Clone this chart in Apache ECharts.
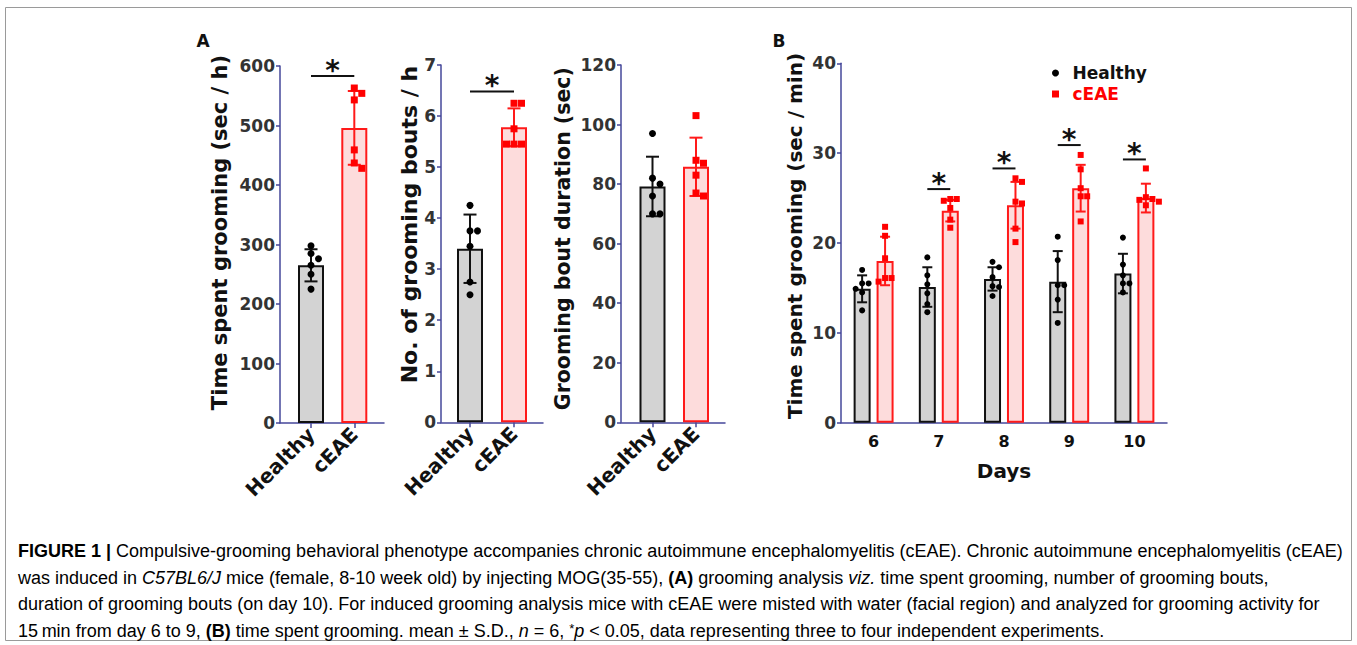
<!DOCTYPE html>
<html><head><meta charset="utf-8">
<script src="https://cdn.jsdelivr.net/npm/echarts@6/dist/echarts.min.js"></script>
<style>html,body{margin:0;padding:0;background:#fff}#c{width:1357px;height:645px}</style>
</head><body><div id="c"></div>
<script>
// ---------------- DATA ----------------
const aCategories = ['Healthy', 'cEAE'];
// A1: time spent grooming (sec / h)
const a1Mean = [265, 496];
const a1SD = [27, 62];
const a1Healthy = [298, 285, 276, 265, 250, 225];
const a1CEAE = [563, 554, 543, 459, 437, 428];
const a1Sig = 583;
// A2: number of grooming bouts / h
const a2Mean = [3.40, 5.78];
const a2SD = [0.67, 0.37];
const a2Healthy = [4.25, 3.75, 3.75, 3.45, 2.75, 2.5];
const a2CEAE = [6.25, 6.25, 5.75, 5.45, 5.45, 5.45];
const a2Sig = 6.48;
// A3: grooming bout duration (sec)
const a3Mean = [79.2, 85.8];
const a3SD = [10.0, 9.8];
const a3Healthy = [97, 82, 80, 76, 70, 70];
const a3CEAE = [103, 88, 87, 83, 76, 77];
// B: time spent grooming (sec / min) per day
const days = ['6', '7', '8', '9', '10'];
const bHealthyMean = [14.9, 15.1, 16.0, 15.7, 16.6];
const bHealthySD = [1.5, 2.2, 1.3, 3.4, 2.2];
const bCEAEMean = [18.0, 23.6, 24.2, 26.1, 25.0];
const bCEAESD = [2.7, 1.2, 2.6, 2.6, 1.6];
const bHealthyPts = [
  [17.0, 15.5, 15.5, 14.9, 14.5, 12.5],
  [18.4, 16.4, 15.4, 14.4, 13.2, 12.3],
  [17.9, 17.3, 16.2, 15.2, 15.1, 14.1],
  [20.7, 18.1, 15.3, 15.3, 13.7, 11.1],
  [20.6, 17.6, 16.4, 15.5, 15.5, 14.5]
];
const bCEAEPts = [
  [21.8, 20.8, 18.3, 16.1, 16.1, 15.7],
  [24.9, 24.9, 24.7, 23.9, 22.6, 21.7],
  [27.2, 26.8, 24.6, 24.4, 21.6, 20.1],
  [29.8, 28.2, 26.1, 25.2, 25.2, 22.4],
  [28.3, 25.1, 24.9, 24.8, 24.6, 24.2]
];
const bSig = [null, 26.0, 28.3, 30.9, 29.3];

// ---------------- STYLE ----------------
const FONT = "'DejaVu Sans', sans-serif";
const CAP_FONT = "'Liberation Sans', Arial, sans-serif";
const AXIS_BLUE = '#45479a';
const GROUP = [
  {fill: '#d3d3d3', stroke: '#111111', point: '#000000', shape: 'circle'},
  {fill: '#fddcdc', stroke: '#ff1a1a', point: '#ff0000', shape: 'rect'}
];

const grids = [], xAxes = [], yAxes = [], series = [];

function swarm(ys, d) {
  const order = ys.map((y, i) => i).sort((a, b) => ys[a] - ys[b]);
  const xs = ys.map(() => 0);
  const placed = [];
  const cands = [0, 1, -1, 2, -2, 3, -3];
  order.forEach(i => {
    for (const k of cands) {
      const x = k * d;
      if (placed.every(j => Math.hypot(xs[j] - x, ys[j] - ys[i]) >= d * 0.98)) { xs[i] = x; break; }
    }
    placed.push(i);
  });
  return xs;
}

function errorSeries(xi, yi, means, sds, colorOf, offsetPx, capHalf) {
  return {
    type: 'custom', xAxisIndex: xi, yAxisIndex: yi, clip: false, z: 5, silent: true,
    data: means.map((m, i) => [i, m, sds[i]]),
    renderItem(params, api) {
      const c = api.value(0), m = api.value(1), s = api.value(2);
      const top = api.coord([c, m + s]), bot = api.coord([c, m - s]);
      const x = top[0] + offsetPx;
      const st = {stroke: colorOf(c), lineWidth: 2};
      return {type: 'group', children: [
        {type: 'line', shape: {x1: x, y1: top[1], x2: x, y2: bot[1]}, style: st},
        {type: 'line', shape: {x1: x - capHalf, y1: top[1], x2: x + capHalf, y2: top[1]}, style: st},
        {type: 'line', shape: {x1: x - capHalf, y1: bot[1], x2: x + capHalf, y2: bot[1]}, style: st}
      ]};
    }
  };
}

function pointSeries(xi, yi, groups, groupOf, offsetPx, size) {
  const data = [];
  groups.forEach((vals, c) => vals.forEach((v, k) => data.push([c, v, k])));
  return {
    type: 'custom', xAxisIndex: xi, yAxisIndex: yi, clip: false, z: 6, silent: true, data,
    renderItem(params, api) {
      const c = api.value(0), k = api.value(2);
      const vals = groups[c];
      const base = api.coord([c, 0])[0] + offsetPx;
      const ys = vals.map(v => api.coord([c, v])[1]);
      const xs = swarm(ys, size + 0.5);
      const x = base + xs[k], y = ys[k];
      const g = groupOf(c);
      if (g.shape === 'circle') return {type: 'circle', shape: {cx: x, cy: y, r: size / 2}, style: {fill: g.point}};
      return {type: 'rect', shape: {x: x - size / 2, y: y - size / 2, width: size, height: size}, style: {fill: g.point}};
    }
  };
}

function sigSeries(xi, yi, items, off0, off1) {
  return {
    type: 'custom', xAxisIndex: xi, yAxisIndex: yi, clip: false, z: 6, silent: true, data: items,
    renderItem(params, api) {
      const p0 = api.coord([api.value(0), api.value(2)]);
      const p1 = api.coord([api.value(1), api.value(2)]);
      const x0 = p0[0] + off0, x1 = p1[0] + off1, y = p0[1];
      return {type: 'group', children: [
        {type: 'line', shape: {x1: x0, y1: y, x2: x1, y2: y}, style: {stroke: '#111', lineWidth: 2}},
        {type: 'text', x: (x0 + x1) / 2, y: y - 6, style: {text: '*', fontFamily: FONT, fontWeight: 'bold', fontSize: 28, fill: '#111', align: 'center', verticalAlign: 'middle'}}
      ]};
    }
  };
}

const axisLineStyle = {color: AXIS_BLUE, width: 1.5};
const tickLabelStyle = {fontFamily: FONT, fontWeight: 'bold', color: '#333', fontSize: 17};

function addPanelA(p) {
  const gOuter = grids.length;
  grids.push({left: p.left, top: p.top, width: p.width, height: p.height, containLabel: false, outerBoundsMode: 'none'});
  const gInner = grids.length;
  grids.push({left: p.innerLeft, top: p.top, width: p.innerWidth, height: p.height, containLabel: false, outerBoundsMode: 'none'});
  xAxes.push({gridIndex: gOuter, type: 'value', min: 0, max: 1,
    axisLine: {show: true, onZero: false, lineStyle: axisLineStyle}, axisTick: {show: false}, axisLabel: {show: false}, splitLine: {show: false}});
  const xi = xAxes.length;
  xAxes.push({gridIndex: gInner, type: 'category', data: aCategories,
    axisLine: {show: false}, axisTick: {show: true, alignWithLabel: true, length: 5, lineStyle: axisLineStyle},
    axisLabel: {interval: 0, rotate: 45, margin: 8, fontFamily: FONT, fontWeight: 'bold', fontSize: 20, color: '#111'}});
  yAxes.push({gridIndex: gOuter, type: 'value', min: 0, max: p.yMax, interval: p.yInterval,
    name: p.name, nameLocation: 'middle', nameGap: p.nameGap,
    nameTextStyle: {fontFamily: FONT, fontWeight: 'bold', fontSize: p.nameSize, color: '#111', padding: [0, 0, 0, p.nameShift * 2]},
    axisLine: {show: true, onZero: false, lineStyle: axisLineStyle},
    axisTick: {show: true, length: 4, lineStyle: axisLineStyle},
    axisLabel: Object.assign({margin: 5}, tickLabelStyle), splitLine: {show: false}});
  const yi = yAxes.length;
  yAxes.push({gridIndex: gInner, type: 'value', min: 0, max: p.yMax, show: false, splitLine: {show: false}});
  series.push({type: 'bar', xAxisIndex: xi, yAxisIndex: yi, barWidth: 26, z: 2, silent: true,
    data: p.means.map((m, i) => ({value: m, itemStyle: {color: GROUP[i].fill, borderColor: GROUP[i].stroke, borderWidth: 2}}))});
  series.push(errorSeries(xi, yi, p.means, p.sds, c => GROUP[c].stroke, 0, 6.5));
  series.push(pointSeries(xi, yi, p.pts, c => GROUP[c], 0, 7));
  if (p.sig != null) series.push(sigSeries(xi, yi, [[0, 1, p.sig]], 0, 0));
}

addPanelA({left: 280, top: 66, width: 104, height: 357, innerLeft: 289.35, innerWidth: 86.6, yMax: 600, yInterval: 100,
  name: 'Time spent grooming (sec / h)', nameGap: 50, nameSize: 21, nameShift: 12,
  means: a1Mean, sds: a1SD, pts: [a1Healthy, a1CEAE], sig: a1Sig});
addPanelA({left: 441, top: 65, width: 102, height: 357.3, innerLeft: 448, innerWidth: 88, yMax: 7, yInterval: 1,
  name: 'No. of grooming bouts / h', nameGap: 20, nameSize: 22, nameShift: 19,
  means: a2Mean, sds: a2SD, pts: [a2Healthy, a2CEAE], sig: a2Sig});
addPanelA({left: 621, top: 65, width: 104, height: 357.3, innerLeft: 630.75, innerWidth: 87, yMax: 120, yInterval: 20,
  name: 'Grooming bout duration (sec)', nameGap: 48, nameSize: 20.5, nameShift: 5,
  means: a3Mean, sds: a3SD, pts: [a3Healthy, a3CEAE], sig: null});

// Panel B
const BAR_B = 17, GAP_B = 0.35;
const offB = BAR_B * (1 + GAP_B) / 2;
const gB = grids.length;
grids.push({left: 841, top: 63.3, width: 326, height: 359.4, containLabel: false, outerBoundsMode: 'none'});
const xB = xAxes.length;
xAxes.push({gridIndex: gB, type: 'category', data: days,
  name: 'Days', nameLocation: 'middle', nameGap: 38,
  nameTextStyle: {fontFamily: FONT, fontWeight: 'bold', fontSize: 20, color: '#111'},
  axisLine: {show: true, lineStyle: axisLineStyle}, axisTick: {show: false},
  axisLabel: {interval: 0, margin: 11, fontFamily: FONT, fontWeight: 'bold', fontSize: 16, color: '#111'}});
const yB = yAxes.length;
yAxes.push({gridIndex: gB, type: 'value', min: 0, max: 40, interval: 10,
  name: 'Time spent grooming (sec / min)', nameLocation: 'middle', nameGap: 36,
  nameTextStyle: {fontFamily: FONT, fontWeight: 'bold', fontSize: 20, color: '#111', padding: [0, 0, 0, 14]},
  axisLine: {show: true, onZero: false, lineStyle: axisLineStyle},
  axisTick: {show: true, length: 4, lineStyle: axisLineStyle},
  axisLabel: Object.assign({margin: 5}, tickLabelStyle), splitLine: {show: false}});
series.push({name: 'Healthy', type: 'bar', xAxisIndex: xB, yAxisIndex: yB, barWidth: BAR_B, barGap: (GAP_B * 100) + '%', z: 2, silent: true,
  itemStyle: {color: GROUP[0].fill, borderColor: GROUP[0].stroke, borderWidth: 2}, data: bHealthyMean});
series.push({name: 'cEAE', type: 'bar', xAxisIndex: xB, yAxisIndex: yB, barWidth: BAR_B, z: 2, silent: true,
  itemStyle: {color: GROUP[1].fill, borderColor: GROUP[1].stroke, borderWidth: 2}, data: bCEAEMean});
series.push(errorSeries(xB, yB, bHealthyMean, bHealthySD, () => GROUP[0].stroke, -offB, 5));
series.push(errorSeries(xB, yB, bCEAEMean, bCEAESD, () => GROUP[1].stroke, offB, 5));
series.push(pointSeries(xB, yB, bHealthyPts, () => GROUP[0], -offB, 6));
series.push(pointSeries(xB, yB, bCEAEPts, () => GROUP[1], offB, 6));
series.push(sigSeries(xB, yB, bSig.map((v, i) => v == null ? null : [i, i, v]).filter(Boolean), -offB, offB));

// ---------------- CAPTION ----------------
const captionLines = [
  '{b|FIGURE 1 |}{n| Compulsive-grooming behavioral phenotype accompanies chronic autoimmune encephalomyelitis (cEAE). Chronic autoimmune encephalomyelitis (cEAE)}',
  '{n|was induced in }{i|C57BL6/J}{n| mice (female, 8-10 week old) by injecting MOG(35-55), }{b|(A)}{n| grooming analysis }{i|viz.}{n| time spent grooming, number of grooming bouts,}',
  '{n|duration of grooming bouts (on day 10). For induced grooming analysis mice with cEAE were misted with water (facial region) and analyzed for grooming activity for}',
  '{n|15\u2009min from day 6 to 9, }{b|(B)}{n| time spent grooming. mean \u00b1 S.D., }{i|n}{n| = 6, }{s|*}{i|p}{n| < 0.05, data representing three to four independent experiments.}'
];
const CAP_SIZE = 18;
const richCap = {
  n: {fontFamily: CAP_FONT, fontSize: CAP_SIZE, color: '#333'},
  b: {fontFamily: CAP_FONT, fontSize: CAP_SIZE, color: '#222', fontWeight: 'bold'},
  i: {fontFamily: CAP_FONT, fontSize: CAP_SIZE, color: '#333', fontStyle: 'italic'},
  s: {fontFamily: CAP_FONT, fontSize: CAP_SIZE - 5, color: '#333', verticalAlign: 'top', padding: [0, 0, 6, 0]}
};
const graphics = [
  {type: 'rect', shape: {x: 5.5, y: 7.5, width: 1346, height: 633}, style: {fill: 'none', stroke: '#9a9a9a', lineWidth: 1}, silent: true},
  {type: 'text', x: 203, y: 41, style: {text: 'A', fontFamily: FONT, fontWeight: 'bold', fontSize: 17, fill: '#111', align: 'center', verticalAlign: 'middle'}},
  {type: 'text', x: 779, y: 41, style: {text: 'B', fontFamily: FONT, fontWeight: 'bold', fontSize: 17, fill: '#111', align: 'center', verticalAlign: 'middle'}}
];
captionLines.forEach((t, i) => {
  graphics.push({type: 'text', x: 18, y: 551 + i * 26.7, silent: true,
    style: {text: t, rich: richCap, align: 'left', verticalAlign: 'middle'}});
});

const chart = echarts.init(document.getElementById('c'), null, {renderer: 'svg'});
chart.setOption({
  animation: false,
  backgroundColor: '#ffffff',
  grid: grids, xAxis: xAxes, yAxis: yAxes, series,
  legend: {
    orient: 'vertical', left: 1052, top: 64, padding: 0, itemGap: 3, itemWidth: 7, itemHeight: 7, selectedMode: false,
    formatter: n => '\u2002' + n,
    textStyle: {fontFamily: FONT, fontWeight: 'bold', fontSize: 17, lineHeight: 18},
    data: [
      {name: 'Healthy', icon: 'circle', itemStyle: {color: '#000', borderWidth: 0}, textStyle: {color: '#111'}},
      {name: 'cEAE', icon: 'rect', itemStyle: {color: '#ff0000', borderWidth: 0}, textStyle: {color: '#ff0000'}}
    ]
  },
  graphic: graphics
});
</script></body></html>
